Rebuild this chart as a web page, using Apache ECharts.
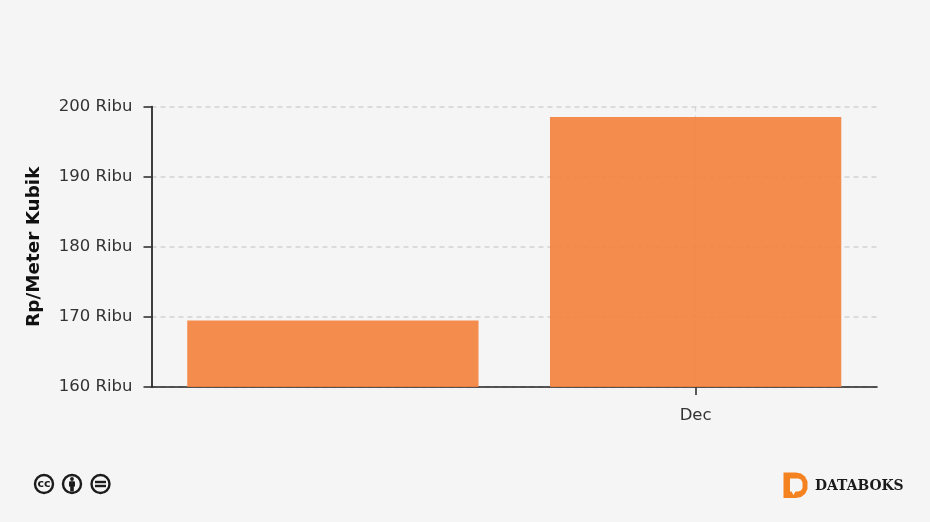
<!DOCTYPE html>
<html><head><meta charset="utf-8">
<style>html,body{margin:0;padding:0;background:#f5f5f5}#c{width:930px;height:522px}</style>
<script src="https://cdn.jsdelivr.net/npm/echarts@6/dist/echarts.min.js"></script>
</head><body><div id="c"></div>
<script>
const categories = ["", "Dec"];
const values = [169.5, 198.5];
const yTicks = [160, 170, 180, 190, 200];
const yTitle = "Rp/Meter Kubik";
const unit = " Ribu";
const brand = "DATABOKS";

const font = "'DejaVu Sans', Verdana, sans-serif";
const chart = echarts.init(document.getElementById('c'), null, {renderer:'canvas'});
const icon = (cx, inner) => ({type:'group', x:cx, y:484, children:[
  {type:'circle', shape:{cx:0,cy:0,r:9}, style:{fill:'#f5f5f5',stroke:'#1c1c1c',lineWidth:2.4}}
].concat(inner)});
chart.setOption({
  backgroundColor:'#f5f5f5',
  animation:false,
  grid:{left:151.5,right:53,top:106.5,bottom:135,containLabel:false},
  xAxis:{type:'category',data:categories,
    axisLine:{lineStyle:{color:'#222',width:1.6}},
    axisTick:{show:false},
    axisLabel:{color:'#333',fontFamily:font,fontSize:16.5,margin:20},
    splitLine:{show:false}
  },
  yAxis:{type:'value',min:yTicks[0],max:yTicks[yTicks.length-1],interval:10,
    name:yTitle,nameLocation:'middle',nameGap:108,nameRotate:90,
    nameTextStyle:{color:'#111',fontFamily:font,fontSize:18.4,fontWeight:'bold'},
    axisLine:{show:true,onZero:false,lineStyle:{color:'#111',width:1.6}},
    axisTick:{show:true,length:8,lineStyle:{color:'#333',width:1.6}},
    axisLabel:{color:'#333',fontFamily:font,fontSize:16.5,margin:19,formatter:v=>v+unit},
    splitLine:{show:true,lineStyle:{color:'#d2d2d2',type:[5,4],width:1.5}}
  },
  series:[{type:'bar',data:values,barWidth:'80.3%',z:3,
    itemStyle:{color:'#f4813c',opacity:0.9},
    markLine:{silent:true,symbol:'none',animation:false,label:{show:false},z:1,
      data:[
        [{coord:['Dec',yTicks[yTicks.length-1]],lineStyle:{color:'#cfcfcf',type:[5,4],width:1.2,opacity:0.8}},{coord:['Dec',yTicks[0]]}],
        [{xAxis:'Dec',y:387,lineStyle:{color:'#333',type:'solid',width:1.6,opacity:1}},{xAxis:'Dec',y:395}]
      ]}
  }],
  graphic:[
    icon(44,[{type:'text',style:{x:0,y:0,text:'cc',align:'center',verticalAlign:'middle',font:'bold 11px "DejaVu Sans"',fill:'#1c1c1c'}}]),
    icon(72,[
      {type:'circle',shape:{cx:0,cy:-5,r:1.9},style:{fill:'#1c1c1c'}},
      {type:'rect',shape:{x:-3,y:-2.8,width:6,height:5.5,r:1},style:{fill:'#1c1c1c'}},
      {type:'rect',shape:{x:-1.8,y:2,width:3.6,height:5.5},style:{fill:'#1c1c1c'}}
    ]),
    icon(100.5,[
      {type:'rect',shape:{x:-5.5,y:-3.2,width:11,height:2.4},style:{fill:'#1c1c1c'}},
      {type:'rect',shape:{x:-5.5,y:0.8,width:11,height:2.4},style:{fill:'#1c1c1c'}}
    ]),
    {type:'polygon',shape:{points:[[783.5,472.5],[796,472.5],[801,473.5],[805,476.5],[807.5,481.5],[807.5,489],[805,494],[801,497],[796,498],[783.5,498]]},
      style:{fill:'#f58220'}},
    {type:'polygon',shape:{points:[[790,478.5],[798,478.5],[801,479.5],[802.5,482.5],[802.5,488],[801,490.5],[798,491.5],[795.5,491.5],[793.5,495],[791.5,491.5],[790,491.5]]},
      style:{fill:'#f5f5f5'}},
    {type:'text',style:{x:815,y:486,text:brand,verticalAlign:'middle',font:'bold 13.9px "DejaVu Serif"',fill:'#1a1a1a'}}
  ]
});
</script></body></html>
